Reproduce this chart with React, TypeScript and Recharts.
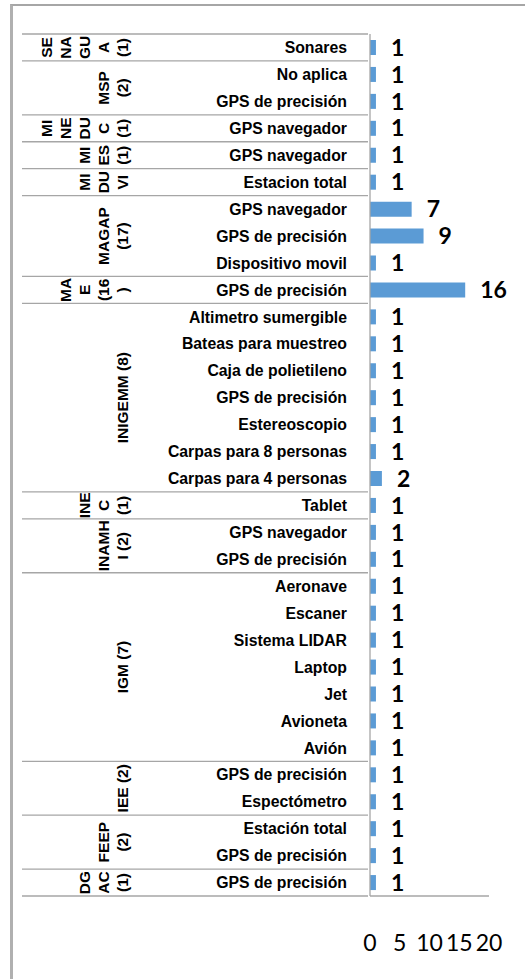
import React from 'react';
import {Bar, BarChart, LabelList, XAxis, YAxis} from 'recharts';

const ITEMS = [
  'Sonares',
  'No aplica',
  'GPS de precisión',
  'GPS navegador',
  'GPS navegador',
  'Estacion total',
  'GPS navegador',
  'GPS de precisión',
  'Dispositivo movil',
  'GPS de precisión',
  'Altimetro sumergible',
  'Bateas para muestreo',
  'Caja de polietileno',
  'GPS de precisión',
  'Estereoscopio',
  'Carpas para 8 personas',
  'Carpas para 4 personas',
  'Tablet',
  'GPS navegador',
  'GPS de precisión',
  'Aeronave',
  'Escaner',
  'Sistema LIDAR',
  'Laptop',
  'Jet',
  'Avioneta',
  'Avión',
  'GPS de precisión',
  'Espectómetro',
  'Estación total',
  'GPS de precisión',
  'GPS de precisión',
];

const VALUES = [1, 1, 1, 1, 1, 1, 7, 9, 1, 16, 1, 1, 1, 1, 1, 1, 2, 1, 1, 1, 1, 1, 1, 1, 1, 1, 1, 1, 1, 1, 1, 1];

// institution labels, already broken into the lines Excel wrapped them to
const GROUP_LINES = [
  ['SE', 'NA', 'GU', 'A', '(1)'],
  ['MSP', '(2)'],
  ['MI', 'NE', 'DU', 'C', '(1)'],
  ['MI', 'ES', '(1)'],
  ['MI', 'DU', 'VI'],
  ['MAGAP', '(17)'],
  ['MA', 'E', '(16', ')'],
  ['INIGEMM (8)'],
  ['INE', 'C', '(1)'],
  ['INAMH', 'I (2)'],
  ['IGM (7)'],
  ['IEE (2)'],
  ['FEEP', '(2)'],
  ['DG', 'AC', '(1)'],
];
const GROUP_SIZES = [1, 2, 1, 1, 1, 3, 1, 7, 1, 2, 7, 2, 2, 1];

const X_TICKS = [0, 5, 10, 15, 20];

const W = 525;
const H = 979;
const MARGIN = {top: 34, right: 36, bottom: 23, left: 24};
const X_AXIS_H = 60;
const Y_AXIS_W = 346;
const ROW_H = (H - MARGIN.top - MARGIN.bottom - X_AXIS_H) / ITEMS.length;

const GRID = '#a6a6a6';
const ARIAL = '"Liberation Sans", Arial, sans-serif';
const CALIBRI = 'Lato, "Open Sans", sans-serif';

const data = ITEMS.map((label, i) => ({key: String(i), label, value: VALUES[i]}));

const groupAt: Record<number, number> = {};
{
  let start = 0;
  GROUP_SIZES.forEach((size, g) => {
    groupAt[start] = g;
    start += size;
  });
}

const CategoryTick = (props: any) => {
  const {x, y, index} = props;
  const i = Number(props.payload?.value ?? index);
  const top = y - ROW_H / 2;
  const left = x - Y_AXIS_W;
  const g = groupAt[i];
  const parts: React.ReactNode[] = [];
  if (g !== undefined) {
    const lines = GROUP_LINES[g];
    const cy = top + (GROUP_SIZES[g] * ROW_H) / 2;
    parts.push(<line key="top" x1={left} x2={x} y1={top} y2={top} stroke={GRID} strokeWidth={1.3} />);
    lines.forEach((ln, j) => {
      const cx = x - 246 - (lines.length - 1 - j) * 19;
      parts.push(
        <text
          key={'g' + j}
          x={cx}
          y={cy}
          dy="0.36em"
          transform={`rotate(-90 ${cx} ${cy})`}
          textAnchor="middle"
          fontFamily={ARIAL}
          fontWeight="bold"
          fontSize={15.5}
          fill="#000"
        >
          {ln}
        </text>,
      );
    });
  }
  if (i === ITEMS.length - 1) {
    const bottom = y + ROW_H / 2;
    parts.push(<line key="bot" x1={left} x2={x} y1={bottom} y2={bottom} stroke={GRID} strokeWidth={1.3} />);
  }
  return (
    <g>
      {parts}
      <text
        x={x - 21}
        y={y}
        dy="0.36em"
        textAnchor="end"
        fontFamily={ARIAL}
        fontWeight="bold"
        fontSize={15.8}
        fill="#000"
      >
        {ITEMS[i]}
      </text>
    </g>
  );
};

const ValueTick = (props: any) => {
  const {x, y, payload} = props;
  return (
    <text x={x} y={y + 53} textAnchor="middle" fontFamily={CALIBRI} fontSize={23} fill="#000">
      {payload.value}
    </text>
  );
};

export default function App() {
  return (
    <div style={{position: 'absolute', left: 0, top: 0, width: W, height: H, background: '#fff', overflow: 'hidden'}}>
      <div
        style={{
          position: 'absolute',
          left: 10,
          top: 4,
          width: W,
          height: H,
          borderTop: `2px solid ${GRID}`,
          borderLeft: `3px solid #b0b0b0`,
        }}
      />
      <BarChart
        width={W}
        height={H}
        data={data}
        layout="vertical"
        margin={MARGIN}
        style={{position: 'absolute', left: 0, top: 0}}
      >
        <XAxis
          type="number"
          domain={[0, 20]}
          ticks={X_TICKS}
          interval={0}
          height={X_AXIS_H}
          axisLine={{stroke: GRID, strokeWidth: 1.3}}
          tickLine={false}
          tickSize={0}
          tick={<ValueTick />}
        />
        <YAxis
          type="category"
          dataKey="key"
          width={Y_AXIS_W}
          interval={0}
          axisLine={{stroke: GRID, strokeWidth: 1.3}}
          tickLine={false}
          tickSize={0}
          tick={<CategoryTick />}
        />
        <Bar dataKey="value" fill="#5B9BD5" barSize={15} isAnimationActive={false}>
          <LabelList
            dataKey="value"
            position="right"
            offset={15}
            style={{fontFamily: CALIBRI, fontWeight: 'bold', fontSize: 23, fill: '#000'}}
          />
        </Bar>
      </BarChart>
    </div>
  );
}
